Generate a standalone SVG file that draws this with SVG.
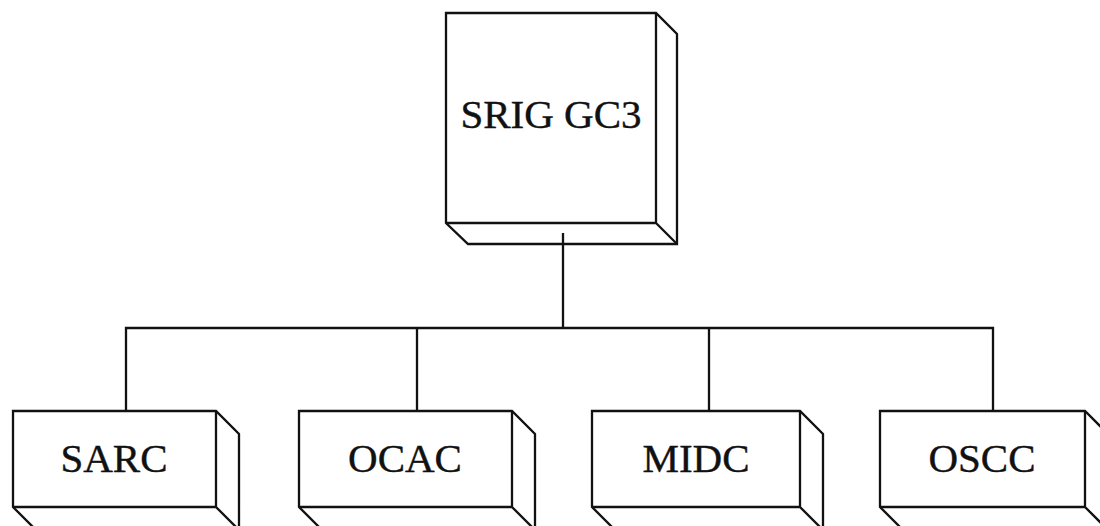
<svg xmlns="http://www.w3.org/2000/svg" width="1100" height="526" viewBox="0 0 1100 526">
<style>
.box{fill:#fff;stroke:#111;stroke-width:2.3;stroke-linejoin:miter}
.edge{fill:none;stroke:#111;stroke-width:2.3}
.lbl{font-family:"Liberation Serif","Times New Roman",serif;font-size:41px;fill:#111;stroke:#111;stroke-width:0.4;text-anchor:middle}
</style>
<rect width="1100" height="526" fill="#fff"/>
<g id="n-srig">
<path class="box" d="M446,13 H656 L677,34 V244 H468 L446,223 Z"/>
<path class="edge" d="M446,223 H656 V13 M656,223 L677,244"/>
<text class="lbl" x="551" y="128">SRIG GC3</text>
</g>
<g id="n-sarc">
<path class="box" d="M13,411 H216 L239,434 V530 H36 L13,507 Z"/>
<path class="edge" d="M13,507 H216 V411 M216,507 L239,530"/>
<text class="lbl" x="114" y="472">SARC</text>
</g>
<g id="n-ocac">
<path class="box" d="M299,411 H512 L535,434 V530 H322 L299,507 Z"/>
<path class="edge" d="M299,507 H512 V411 M512,507 L535,530"/>
<text class="lbl" x="405" y="472">OCAC</text>
</g>
<g id="n-midc">
<path class="box" d="M592,411 H800 L823,434 V530 H615 L592,507 Z"/>
<path class="edge" d="M592,507 H800 V411 M800,507 L823,530"/>
<text class="lbl" x="696" y="472">MIDC</text>
</g>
<g id="n-oscc">
<path class="box" d="M880,411 H1085 L1108,434 V530 H903 L880,507 Z"/>
<path class="edge" d="M880,507 H1085 V411 M1085,507 L1108,530"/>
<text class="lbl" x="982" y="472">OSCC</text>
</g>
<g id="connectors" class="edge">
<line x1="563" y1="233" x2="563" y2="328"/>
<polyline points="126,411 126,328 993,328 993,411"/>
<line x1="417" y1="328" x2="417" y2="411"/>
<line x1="709" y1="328" x2="709" y2="411"/>
</g>
</svg>
